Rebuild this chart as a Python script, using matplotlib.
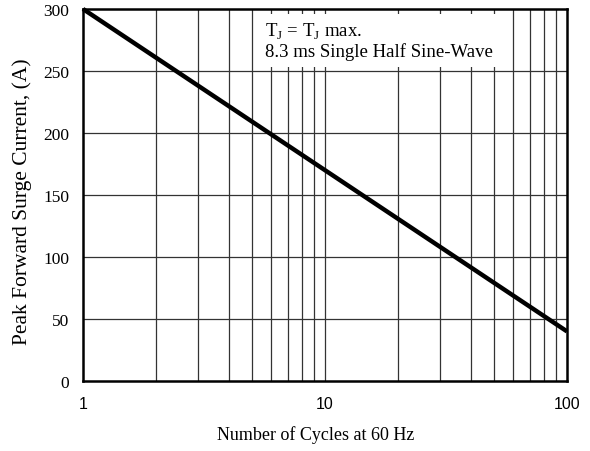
import matplotlib.pyplot as plt
from matplotlib.ticker import FixedLocator, NullFormatter
from matplotlib.patches import Rectangle

ciclos = [1, 100]
corrente = [300, 40]

fig = plt.figure(figsize=(5.9, 4.52), dpi=100)
ax = fig.add_axes([83/590, 70/452, 484/590, 372/452])

ax.set_xscale('log')
ax.set_xlim(1, 100)
ax.set_ylim(0, 300)

# grade
grade_x = [2, 3, 4, 5, 6, 7, 8, 9, 10, 20, 30, 40, 50, 60, 70, 80, 90]
for gx in grade_x:
    ax.axvline(gx, color='#333333', lw=0.9, zorder=1)
for gy in [50, 100, 150, 200, 250]:
    ax.axhline(gy, color='#333333', lw=0.9, zorder=1)

# caixa branca atras do texto
ax.add_patch(Rectangle((5.2, 253), 58 - 5.2, 296 - 253, facecolor='white',
                       edgecolor='none', zorder=2))
ax.text(5.65, 282, r'T$_\mathregular{J}$ = T$_\mathregular{J}$ max.', family='Liberation Serif',
        fontsize=13.5, va='center', zorder=3)
ax.text(5.65, 266, '8.3 ms Single Half Sine-Wave', family='Liberation Serif',
        fontsize=13.5, va='center', zorder=3)

ax.plot(ciclos, corrente, color='black', lw=3.2, solid_capstyle='butt', zorder=4, clip_on=False)

ax.xaxis.set_major_locator(FixedLocator([1, 10, 100]))
ax.set_xticklabels(['1', '10', '100'], family='Liberation Sans', fontsize=11.5)
ax.xaxis.set_minor_formatter(NullFormatter())
ax.set_yticks([0, 50, 100, 150, 200, 250, 300])
ax.set_yticklabels(['0', '50', '100', '150', '200', '250', '300'],
                   family='Liberation Serif', fontsize=12.5)
ax.tick_params(which='both', length=0)
ax.tick_params(axis='x', pad=11)
ax.tick_params(axis='y', pad=10)

for s in ax.spines.values():
    s.set_linewidth(1.8)
    s.set_zorder(5)

fig.text(316/590, 1 - 435/452, 'Number of Cycles at 60 Hz', family='Liberation Serif',
         fontsize=13, ha='center', va='center')
fig.text(22/590, 1 - 202/452, 'Peak Forward Surge Current, (A)', family='Liberation Serif',
         fontsize=15.5, ha='center', va='center', rotation=90)

plt.savefig('out.png', dpi=100)
